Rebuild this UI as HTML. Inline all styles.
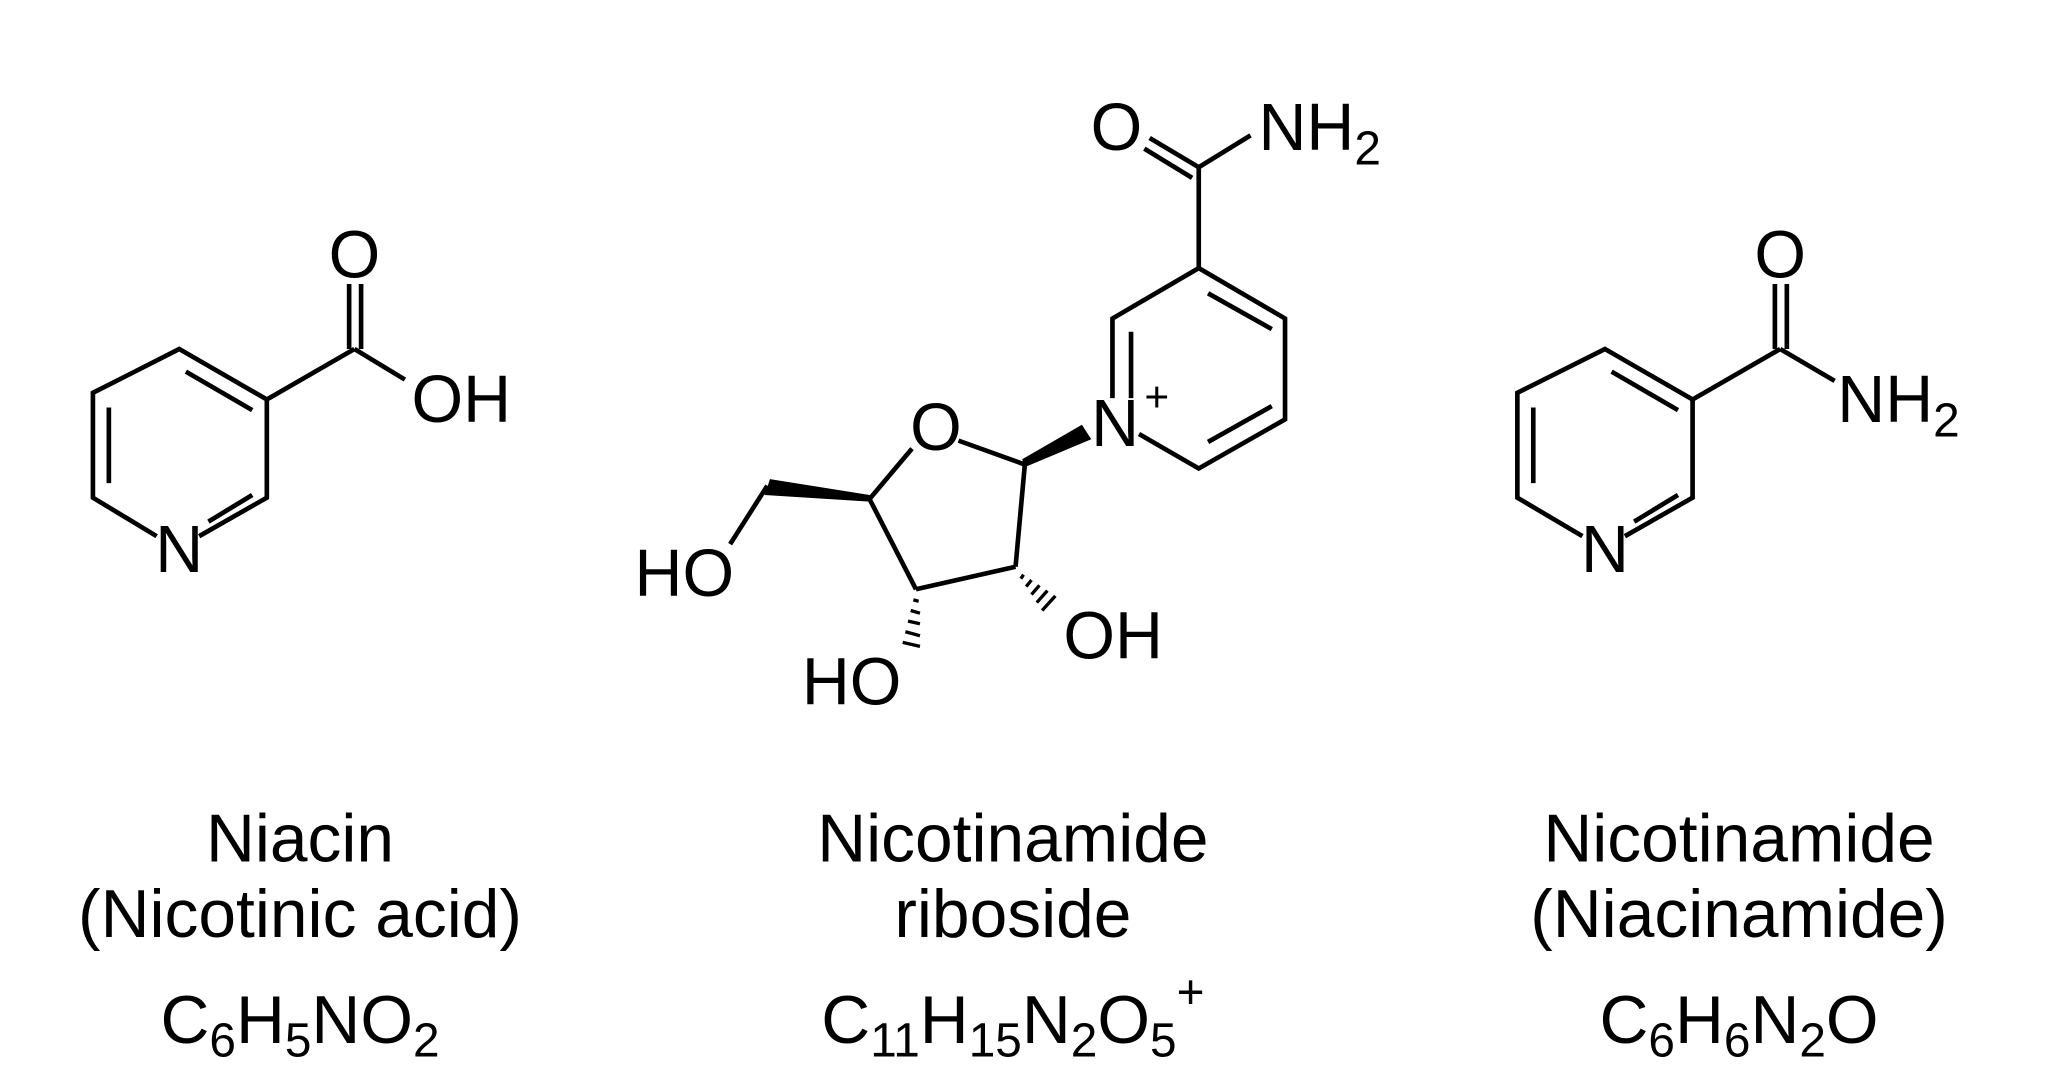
<!DOCTYPE html>
<html><head><meta charset="utf-8"><style>
html,body{margin:0;padding:0;background:#fff;}
svg{display:block;}
text{font-family:"Liberation Sans",sans-serif;fill:#000;}
</style></head><body>
<svg width="2055" height="1079" viewBox="0 0 1548 813" preserveAspectRatio="none" xmlns="http://www.w3.org/2000/svg">
<g stroke="#000" stroke-width="3.5" fill="none" stroke-linecap="butt">
<!-- Niacin -->
<polyline points="118,404 70,375 70,296 135,263 201,301 201,375 150,404"/>
<line x1="82" y1="307" x2="82" y2="364"/>
<line x1="140" y1="280" x2="190" y2="309"/>
<line x1="157" y1="393" x2="190" y2="373"/>
<line x1="201" y1="301" x2="267" y2="263"/>
<line x1="267" y1="263" x2="305" y2="286"/>
<line x1="263" y1="214" x2="263" y2="263"/>
<line x1="272" y1="214" x2="272" y2="263"/>
<!-- Nicotinamide -->
<polyline points="1192,404 1143,375 1143,296 1209,263 1275,301 1275,375 1224,404"/>
<line x1="1155" y1="307" x2="1155" y2="364"/>
<line x1="1214" y1="280" x2="1264" y2="309"/>
<line x1="1231" y1="393" x2="1264" y2="373"/>
<line x1="1275" y1="301" x2="1341" y2="263"/>
<line x1="1341" y1="263" x2="1382" y2="287"/>
<line x1="1337" y1="214" x2="1337" y2="263"/>
<line x1="1346" y1="214" x2="1346" y2="263"/>
<!-- Riboside pyridinium -->
<polyline points="838,300 838,240 903,202 968,240 968,316 903,353 858,327"/>
<line x1="852" y1="250" x2="852" y2="300"/>
<line x1="910" y1="221" x2="958" y2="248"/>
<line x1="910" y1="333" x2="958" y2="306"/>
<line x1="903" y1="202" x2="903" y2="126"/>
<line x1="903" y1="126" x2="942" y2="102"/>
<line x1="903" y1="126" x2="866" y2="104"/>
<line x1="898" y1="134" x2="862" y2="112"/>
<!-- sugar -->
<line x1="722" y1="332" x2="772" y2="350"/>
<line x1="772" y1="350" x2="765" y2="427"/>
<line x1="765" y1="427" x2="690" y2="444"/>
<line x1="690" y1="444" x2="655" y2="376"/>
<line x1="655" y1="376" x2="687" y2="338"/>
<line x1="578" y1="366" x2="550" y2="410"/>
</g>
<polygon points="772,352 770,346 815,320 822,331" fill="#000"/>
<polygon points="655,378 655,373 580,361 576,373" fill="#000"/>
<g stroke="#000" stroke-width="2.5">
<line x1="688" y1="452" x2="692" y2="453"/>
<line x1="686" y1="460" x2="693" y2="462"/>
<line x1="684" y1="468" x2="693" y2="470"/>
<line x1="682" y1="476" x2="693" y2="479"/>
<line x1="680" y1="484" x2="693" y2="487"/>
<line x1="771" y1="433" x2="769" y2="436"/>
<line x1="777" y1="437" x2="773" y2="442"/>
<line x1="783" y1="441" x2="777" y2="448"/>
<line x1="789" y1="445" x2="781" y2="454"/>
<line x1="795" y1="449" x2="785" y2="460"/>
</g>
<g font-size="50">
<text x="267" y="209" text-anchor="middle">O</text>
<text x="310" y="318">OH</text>
<text x="135" y="431" text-anchor="middle">N</text>
<text x="1341" y="209" text-anchor="middle">O</text>
<text x="1384" y="318">NH<tspan font-size="36" dy="11">2</tspan></text>
<text x="1209" y="431" text-anchor="middle">N</text>
<text x="841" y="113" text-anchor="middle">O</text>
<text x="948" y="113">NH<tspan font-size="36" dy="11">2</tspan></text>
<text x="840" y="336" text-anchor="middle">N</text>
<text x="862" y="310" font-size="32">+</text>
<text x="705" y="339" text-anchor="middle">O</text>
<text x="478" y="449">HO</text>
<text x="604" y="531">HO</text>
<text x="801" y="496">OH</text>
</g>
<g font-size="51" text-anchor="middle">
<text x="226" y="649">Niacin</text>
<text x="226" y="706">(Nicotinic acid)</text>
<text x="226" y="786">C<tspan font-size="36" dy="10">6</tspan><tspan dy="-10">H</tspan><tspan font-size="36" dy="10">5</tspan><tspan dy="-10">NO</tspan><tspan font-size="36" dy="10">2</tspan></text>
<text x="763" y="649">Nicotinamide</text>
<text x="763" y="706">riboside</text>
<text x="763" y="786">C<tspan font-size="36" dy="10">11</tspan><tspan dy="-10">H</tspan><tspan font-size="36" dy="10">15</tspan><tspan dy="-10">N</tspan><tspan font-size="36" dy="10">2</tspan><tspan dy="-10">O</tspan><tspan font-size="36" dy="10">5</tspan><tspan font-size="36" dy="-36">+</tspan></text>
<text x="1310" y="649">Nicotinamide</text>
<text x="1310" y="706">(Niacinamide)</text>
<text x="1310" y="786">C<tspan font-size="36" dy="10">6</tspan><tspan dy="-10">H</tspan><tspan font-size="36" dy="10">6</tspan><tspan dy="-10">N</tspan><tspan font-size="36" dy="10">2</tspan><tspan dy="-10">O</tspan></text>
</g>
</svg>
</body></html>
